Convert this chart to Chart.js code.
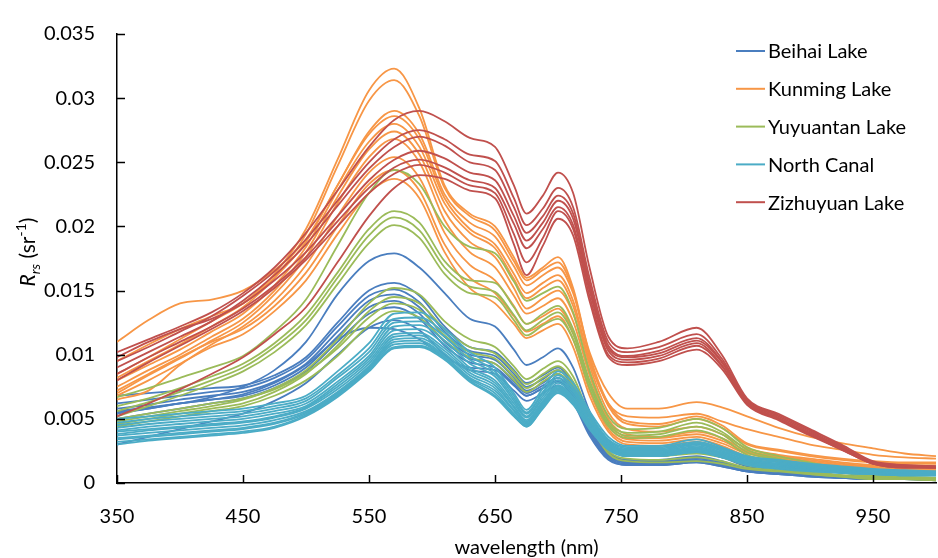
<!DOCTYPE html>
<html>
<head>
<meta charset="utf-8">
<script src="https://cdn.jsdelivr.net/npm/chart.js@4.4.1/dist/chart.umd.min.js"></script>
<style>
  html, body { margin: 0; padding: 0; background: #fff; }
  #wrap { width: 938px; height: 558px; }
</style>
</head>
<body>
<div id="wrap"><canvas id="rrsChart" width="938" height="558"></canvas></div>
<script>
const wavelengths = [350, 375, 400, 425, 450, 475, 500, 525, 550, 570, 590, 610, 630, 650, 665, 675, 688, 700, 712, 725, 740, 755, 780, 810, 830, 850, 875, 900, 925, 950, 975, 1000];

const xTickValues = [350, 450, 550, 650, 750, 850, 950];
const yTickValues = [0, 0.005, 0.01, 0.015, 0.02, 0.025, 0.03, 0.035];

const lakeNames = ['Beihai Lake', 'Kunming Lake', 'Yuyuantan Lake', 'North Canal', 'Zizhuyuan Lake'];
const lakeColors = ['#4a7ebf', '#f79646', '#9bbb59', '#4bacc6', '#c0504d'];

// Rrs (sr^-1), one row per sampled spectrum
const beihaiLake = [
  [0.0055,0.0058,0.0062,0.0067,0.0075,0.0088,0.0110,0.0147,0.0173,0.0179,0.0168,0.0148,0.0128,0.0122,0.0104,0.0092,0.0098,0.0105,0.0090,0.0056,0.0030,0.0022,0.0021,0.0024,0.0020,0.0013,0.0010,0.0008,0.0006,0.0005,0.0004,0.0004],
  [0.0068,0.0070,0.0072,0.0074,0.0076,0.0084,0.0098,0.0125,0.0150,0.0156,0.0146,0.0122,0.0106,0.0102,0.0088,0.0078,0.0084,0.0090,0.0076,0.0046,0.0024,0.0018,0.0018,0.0021,0.0017,0.0011,0.0009,0.0007,0.0005,0.0004,0.0004,0.0003],
  [0.0062,0.0065,0.0068,0.0071,0.0074,0.0082,0.0096,0.0122,0.0146,0.0151,0.0141,0.0118,0.0103,0.0099,0.0085,0.0075,0.0081,0.0088,0.0074,0.0045,0.0023,0.0017,0.0017,0.0020,0.0016,0.0011,0.0008,0.0006,0.0005,0.0004,0.0003,0.0003],
  [0.0058,0.0061,0.0065,0.0068,0.0071,0.0079,0.0093,0.0118,0.0142,0.0147,0.0137,0.0114,0.0100,0.0096,0.0082,0.0072,0.0078,0.0085,0.0071,0.0043,0.0022,0.0017,0.0016,0.0019,0.0016,0.0010,0.0008,0.0006,0.0005,0.0004,0.0003,0.0003],
  [0.0054,0.0058,0.0062,0.0065,0.0068,0.0076,0.0090,0.0114,0.0137,0.0142,0.0132,0.0110,0.0097,0.0093,0.0079,0.0070,0.0076,0.0082,0.0069,0.0041,0.0021,0.0016,0.0016,0.0018,0.0015,0.0010,0.0008,0.0006,0.0004,0.0003,0.0003,0.0003],
  [0.0050,0.0054,0.0058,0.0062,0.0066,0.0074,0.0087,0.0110,0.0132,0.0137,0.0128,0.0107,0.0094,0.0090,0.0077,0.0068,0.0074,0.0080,0.0067,0.0040,0.0020,0.0015,0.0015,0.0017,0.0014,0.0009,0.0007,0.0006,0.0004,0.0003,0.0003,0.0003],
  [0.0030,0.0036,0.0042,0.0048,0.0054,0.0064,0.0078,0.0100,0.0121,0.0127,0.0119,0.0100,0.0088,0.0085,0.0072,0.0064,0.0070,0.0076,0.0063,0.0037,0.0018,0.0014,0.0014,0.0016,0.0013,0.0009,0.0007,0.0005,0.0004,0.0003,0.0003,0.0002],
  [0.0056,0.0059,0.0062,0.0065,0.0069,0.0078,0.0092,0.0112,0.0121,0.0120,0.0112,0.0098,0.0090,0.0088,0.0076,0.0068,0.0074,0.0079,0.0066,0.0039,0.0019,0.0014,0.0014,0.0016,0.0013,0.0009,0.0007,0.0005,0.0004,0.0003,0.0003,0.0002]
];

const kunmingLake = [
  [0.0085,0.0098,0.0112,0.0126,0.0140,0.0163,0.0198,0.0252,0.0306,0.0323,0.0292,0.0232,0.0210,0.0200,0.0176,0.0160,0.0168,0.0176,0.0152,0.0100,0.0062,0.0048,0.0046,0.0052,0.0045,0.0031,0.0026,0.0022,0.0019,0.0017,0.0016,0.0016],
  [0.0082,0.0095,0.0108,0.0122,0.0137,0.0160,0.0194,0.0247,0.0298,0.0314,0.0286,0.0230,0.0208,0.0197,0.0173,0.0158,0.0166,0.0172,0.0150,0.0098,0.0060,0.0046,0.0044,0.0050,0.0043,0.0030,0.0025,0.0021,0.0018,0.0016,0.0015,0.0015],
  [0.0110,0.0127,0.0140,0.0143,0.0150,0.0166,0.0190,0.0232,0.0274,0.0290,0.0272,0.0225,0.0203,0.0192,0.0169,0.0154,0.0162,0.0168,0.0148,0.0102,0.0070,0.0058,0.0058,0.0063,0.0059,0.0052,0.0043,0.0036,0.0031,0.0027,0.0023,0.0021],
  [0.0095,0.0108,0.0120,0.0130,0.0140,0.0160,0.0188,0.0232,0.0272,0.0286,0.0268,0.0222,0.0198,0.0186,0.0163,0.0148,0.0156,0.0162,0.0142,0.0095,0.0062,0.0052,0.0051,0.0054,0.0048,0.0042,0.0036,0.0030,0.0026,0.0022,0.0020,0.0019],
  [0.0080,0.0092,0.0104,0.0118,0.0132,0.0154,0.0184,0.0228,0.0266,0.0280,0.0262,0.0218,0.0195,0.0183,0.0159,0.0144,0.0152,0.0158,0.0138,0.0092,0.0055,0.0042,0.0040,0.0044,0.0038,0.0027,0.0022,0.0019,0.0016,0.0014,0.0013,0.0013],
  [0.0075,0.0088,0.0100,0.0114,0.0128,0.0150,0.0180,0.0223,0.0260,0.0274,0.0256,0.0212,0.0188,0.0176,0.0152,0.0136,0.0144,0.0150,0.0132,0.0088,0.0050,0.0038,0.0036,0.0040,0.0035,0.0025,0.0021,0.0018,0.0015,0.0013,0.0012,0.0012],
  [0.0070,0.0084,0.0097,0.0111,0.0125,0.0147,0.0176,0.0218,0.0254,0.0268,0.0250,0.0205,0.0180,0.0168,0.0146,0.0132,0.0138,0.0144,0.0126,0.0084,0.0048,0.0036,0.0035,0.0038,0.0033,0.0024,0.0020,0.0017,0.0014,0.0013,0.0012,0.0012],
  [0.0065,0.0072,0.0092,0.0108,0.0122,0.0142,0.0170,0.0208,0.0242,0.0254,0.0238,0.0195,0.0170,0.0158,0.0138,0.0124,0.0130,0.0136,0.0118,0.0078,0.0045,0.0034,0.0033,0.0036,0.0031,0.0023,0.0019,0.0016,0.0013,0.0012,0.0011,0.0011],
  [0.0072,0.0085,0.0098,0.0110,0.0120,0.0138,0.0164,0.0200,0.0233,0.0244,0.0228,0.0186,0.0160,0.0148,0.0130,0.0118,0.0124,0.0130,0.0112,0.0072,0.0042,0.0032,0.0031,0.0034,0.0029,0.0021,0.0018,0.0015,0.0013,0.0011,0.0010,0.0010],
  [0.0068,0.0080,0.0093,0.0106,0.0116,0.0134,0.0158,0.0194,0.0226,0.0237,0.0222,0.0180,0.0152,0.0140,0.0124,0.0113,0.0119,0.0124,0.0106,0.0068,0.0040,0.0030,0.0029,0.0032,0.0027,0.0020,0.0017,0.0014,0.0012,0.0010,0.0009,0.0009]
];

const yuyuantanLake = [
  [0.0067,0.0074,0.0082,0.0090,0.0099,0.0118,0.0143,0.0185,0.0226,0.0244,0.0233,0.0200,0.0184,0.0179,0.0157,0.0142,0.0148,0.0153,0.0133,0.0087,0.0052,0.0042,0.0043,0.0050,0.0043,0.0028,0.0021,0.0016,0.0011,0.0007,0.0005,0.0004],
  [0.0060,0.0066,0.0074,0.0083,0.0093,0.0109,0.0131,0.0164,0.0198,0.0212,0.0203,0.0173,0.0158,0.0156,0.0137,0.0124,0.0132,0.0138,0.0120,0.0080,0.0048,0.0039,0.0040,0.0047,0.0040,0.0026,0.0019,0.0014,0.0010,0.0006,0.0005,0.0004],
  [0.0056,0.0063,0.0071,0.0080,0.0090,0.0106,0.0127,0.0160,0.0193,0.0207,0.0197,0.0168,0.0153,0.0149,0.0131,0.0119,0.0127,0.0133,0.0116,0.0077,0.0046,0.0037,0.0038,0.0044,0.0038,0.0024,0.0018,0.0013,0.0009,0.0006,0.0004,0.0003],
  [0.0052,0.0060,0.0068,0.0077,0.0087,0.0102,0.0123,0.0155,0.0187,0.0201,0.0191,0.0163,0.0148,0.0145,0.0127,0.0115,0.0123,0.0128,0.0112,0.0074,0.0044,0.0035,0.0036,0.0041,0.0035,0.0022,0.0017,0.0012,0.0008,0.0005,0.0004,0.0003],
  [0.0048,0.0052,0.0056,0.0060,0.0065,0.0074,0.0088,0.0112,0.0140,0.0152,0.0147,0.0126,0.0112,0.0106,0.0091,0.0081,0.0089,0.0095,0.0083,0.0053,0.0030,0.0023,0.0023,0.0026,0.0022,0.0015,0.0012,0.0009,0.0006,0.0004,0.0003,0.0003],
  [0.0046,0.0050,0.0054,0.0058,0.0062,0.0071,0.0085,0.0107,0.0134,0.0145,0.0140,0.0120,0.0106,0.0101,0.0087,0.0077,0.0085,0.0091,0.0079,0.0051,0.0028,0.0021,0.0021,0.0023,0.0020,0.0014,0.0011,0.0008,0.0006,0.0004,0.0003,0.0003],
  [0.0050,0.0054,0.0058,0.0062,0.0066,0.0073,0.0086,0.0105,0.0129,0.0140,0.0135,0.0115,0.0102,0.0097,0.0083,0.0074,0.0082,0.0088,0.0076,0.0048,0.0025,0.0019,0.0018,0.0020,0.0017,0.0012,0.0010,0.0007,0.0005,0.0004,0.0003,0.0002],
  [0.0044,0.0048,0.0052,0.0056,0.0060,0.0068,0.0080,0.0099,0.0123,0.0134,0.0129,0.0111,0.0098,0.0093,0.0080,0.0071,0.0079,0.0085,0.0073,0.0046,0.0023,0.0017,0.0016,0.0017,0.0015,0.0011,0.0009,0.0007,0.0005,0.0003,0.0003,0.0002]
];

const northCanal = [
  [0.0050,0.0052,0.0054,0.0056,0.0058,0.0062,0.0068,0.0087,0.0109,0.0132,0.0133,0.0120,0.0102,0.0090,0.0070,0.0057,0.0074,0.0087,0.0078,0.0056,0.0036,0.0029,0.0029,0.0034,0.0028,0.0021,0.0018,0.0015,0.0013,0.0011,0.0010,0.0009],
  [0.0047,0.0050,0.0052,0.0054,0.0056,0.0060,0.0066,0.0084,0.0105,0.0128,0.0129,0.0117,0.0099,0.0087,0.0068,0.0055,0.0071,0.0084,0.0075,0.0054,0.0034,0.0028,0.0028,0.0032,0.0027,0.0020,0.0017,0.0014,0.0012,0.0010,0.0009,0.0009],
  [0.0045,0.0048,0.0050,0.0052,0.0054,0.0058,0.0064,0.0082,0.0102,0.0125,0.0126,0.0114,0.0096,0.0085,0.0066,0.0054,0.0070,0.0082,0.0073,0.0052,0.0033,0.0027,0.0027,0.0031,0.0026,0.0019,0.0016,0.0013,0.0011,0.0010,0.0009,0.0008],
  [0.0043,0.0046,0.0048,0.0050,0.0052,0.0056,0.0062,0.0079,0.0099,0.0122,0.0123,0.0111,0.0093,0.0083,0.0064,0.0052,0.0068,0.0080,0.0071,0.0051,0.0032,0.0026,0.0026,0.0030,0.0025,0.0018,0.0015,0.0013,0.0011,0.0009,0.0008,0.0008],
  [0.0041,0.0044,0.0046,0.0048,0.0050,0.0054,0.0060,0.0077,0.0097,0.0119,0.0120,0.0108,0.0090,0.0080,0.0062,0.0051,0.0066,0.0078,0.0069,0.0049,0.0031,0.0025,0.0025,0.0029,0.0024,0.0018,0.0015,0.0012,0.0010,0.0009,0.0008,0.0008],
  [0.0040,0.0042,0.0044,0.0046,0.0048,0.0052,0.0059,0.0075,0.0095,0.0116,0.0117,0.0105,0.0088,0.0078,0.0060,0.0049,0.0064,0.0076,0.0067,0.0048,0.0030,0.0024,0.0024,0.0028,0.0023,0.0017,0.0014,0.0012,0.0010,0.0008,0.0007,0.0007],
  [0.0038,0.0041,0.0043,0.0045,0.0047,0.0051,0.0058,0.0073,0.0093,0.0114,0.0115,0.0103,0.0086,0.0076,0.0059,0.0048,0.0063,0.0075,0.0066,0.0047,0.0029,0.0024,0.0024,0.0027,0.0023,0.0017,0.0014,0.0011,0.0009,0.0008,0.0007,0.0007],
  [0.0037,0.0039,0.0041,0.0043,0.0045,0.0049,0.0056,0.0071,0.0091,0.0112,0.0113,0.0101,0.0084,0.0074,0.0057,0.0047,0.0062,0.0074,0.0065,0.0046,0.0029,0.0023,0.0023,0.0027,0.0022,0.0016,0.0013,0.0011,0.0009,0.0008,0.0007,0.0007],
  [0.0035,0.0037,0.0039,0.0041,0.0043,0.0047,0.0055,0.0070,0.0090,0.0110,0.0111,0.0099,0.0082,0.0072,0.0056,0.0046,0.0061,0.0073,0.0064,0.0045,0.0028,0.0023,0.0023,0.0026,0.0022,0.0016,0.0013,0.0011,0.0009,0.0007,0.0007,0.0006],
  [0.0034,0.0036,0.0038,0.0040,0.0042,0.0046,0.0054,0.0069,0.0089,0.0108,0.0109,0.0098,0.0081,0.0070,0.0054,0.0045,0.0060,0.0072,0.0063,0.0044,0.0027,0.0022,0.0022,0.0025,0.0021,0.0015,0.0012,0.0010,0.0008,0.0007,0.0006,0.0006],
  [0.0032,0.0034,0.0036,0.0038,0.0040,0.0044,0.0053,0.0068,0.0088,0.0106,0.0107,0.0097,0.0080,0.0068,0.0053,0.0044,0.0059,0.0071,0.0062,0.0043,0.0026,0.0021,0.0021,0.0024,0.0020,0.0015,0.0012,0.0010,0.0008,0.0007,0.0006,0.0006],
  [0.0030,0.0033,0.0035,0.0037,0.0039,0.0043,0.0052,0.0067,0.0087,0.0105,0.0106,0.0096,0.0079,0.0067,0.0052,0.0044,0.0058,0.0070,0.0061,0.0042,0.0026,0.0021,0.0021,0.0024,0.0020,0.0014,0.0011,0.0009,0.0008,0.0007,0.0006,0.0006]
];

const zizhuyuanLake = [
  [0.0102,0.0112,0.0122,0.0133,0.0148,0.0168,0.0195,0.0228,0.0262,0.0283,0.0290,0.0282,0.0269,0.0262,0.0232,0.0210,0.0224,0.0242,0.0226,0.0168,0.0114,0.0105,0.0110,0.0121,0.0100,0.0066,0.0054,0.0042,0.0030,0.0017,0.0014,0.0013],
  [0.0095,0.0106,0.0118,0.0130,0.0146,0.0165,0.0190,0.0220,0.0250,0.0268,0.0275,0.0268,0.0256,0.0251,0.0222,0.0201,0.0214,0.0230,0.0215,0.0160,0.0110,0.0102,0.0106,0.0116,0.0097,0.0065,0.0053,0.0041,0.0029,0.0016,0.0014,0.0013],
  [0.0090,0.0102,0.0114,0.0126,0.0142,0.0162,0.0186,0.0216,0.0245,0.0262,0.0270,0.0263,0.0250,0.0244,0.0215,0.0195,0.0208,0.0224,0.0210,0.0156,0.0107,0.0099,0.0103,0.0113,0.0095,0.0064,0.0052,0.0040,0.0028,0.0016,0.0013,0.0013],
  [0.0098,0.0110,0.0120,0.0128,0.0140,0.0158,0.0180,0.0208,0.0236,0.0252,0.0259,0.0253,0.0242,0.0236,0.0208,0.0189,0.0203,0.0220,0.0206,0.0153,0.0105,0.0098,0.0101,0.0111,0.0094,0.0063,0.0051,0.0039,0.0028,0.0016,0.0013,0.0012],
  [0.0085,0.0098,0.0110,0.0122,0.0136,0.0154,0.0176,0.0204,0.0230,0.0246,0.0252,0.0246,0.0236,0.0230,0.0202,0.0183,0.0198,0.0215,0.0201,0.0150,0.0103,0.0096,0.0099,0.0109,0.0092,0.0062,0.0050,0.0038,0.0027,0.0015,0.0013,0.0012],
  [0.0080,0.0094,0.0107,0.0120,0.0134,0.0152,0.0174,0.0200,0.0226,0.0241,0.0248,0.0242,0.0232,0.0226,0.0194,0.0172,0.0191,0.0212,0.0198,0.0146,0.0100,0.0094,0.0097,0.0107,0.0091,0.0062,0.0050,0.0038,0.0026,0.0015,0.0012,0.0012],
  [0.0052,0.0062,0.0073,0.0085,0.0098,0.0116,0.0137,0.0172,0.0208,0.0230,0.0240,0.0237,0.0228,0.0222,0.0186,0.0162,0.0185,0.0206,0.0193,0.0142,0.0098,0.0092,0.0095,0.0104,0.0089,0.0061,0.0049,0.0037,0.0026,0.0015,0.0012,0.0012]
];

const spectraByLake = [beihaiLake, kunmingLake, yuyuantanLake, northCanal, zizhuyuanLake];

const FONT = 'Lato, "Noto Sans", sans-serif';

// one dataset per spectrum; later lakes are drawn on top
const datasets = [];
spectraByLake.forEach((rows, li) => {
  rows.forEach(row => {
    datasets.push({
      label: lakeNames[li],
      data: row.map((v, i) => ({ x: wavelengths[i], y: v })),
      borderColor: lakeColors[li],
      backgroundColor: lakeColors[li],
      borderWidth: 1.8,
      pointRadius: 0,
      fill: false,
      cubicInterpolationMode: 'monotone',
      order: lakeNames.length - 1 - li,
    });
  });
});

// inward tick marks, rotated y title with sub/superscript, and the legend
const decorPlugin = {
  id: 'decor',
  afterDraw(chart) {
    const ctx = chart.ctx;
    const xs = chart.scales.x;
    const ys = chart.scales.y;
    const area = chart.chartArea;
    ctx.save();
    ctx.strokeStyle = '#000';
    ctx.lineWidth = 1.5;
    xTickValues.forEach(v => {
      const px = Math.round(xs.getPixelForValue(v)) + 0.5;
      ctx.beginPath();
      ctx.moveTo(px, area.bottom);
      ctx.lineTo(px, area.bottom - 8);
      ctx.stroke();
    });
    yTickValues.forEach(v => {
      const py = Math.round(ys.getPixelForValue(v)) + 0.5;
      ctx.beginPath();
      ctx.moveTo(area.left, py);
      ctx.lineTo(area.left + 8, py);
      ctx.stroke();
    });

    // y axis title: R_rs (sr^-1)
    const parts = [
      { t: 'R', font: 'italic 21px ' + FONT, dy: 0 },
      { t: 'rs', font: 'italic 14px ' + FONT, dy: 5 },
      { t: ' (sr', font: '21px ' + FONT, dy: 0 },
      { t: '-1', font: '14px ' + FONT, dy: -9 },
      { t: ')', font: '21px ' + FONT, dy: 0 },
    ];
    let total = 0;
    parts.forEach(p => { ctx.font = p.font; p.w = ctx.measureText(p.t).width; total += p.w; });
    ctx.translate(35, 252);
    ctx.rotate(-Math.PI / 2);
    ctx.fillStyle = '#000';
    ctx.textBaseline = 'alphabetic';
    ctx.textAlign = 'left';
    let cx = -total / 2;
    parts.forEach(p => {
      ctx.font = p.font;
      ctx.fillText(p.t, cx, p.dy);
      cx += p.w;
    });
    ctx.restore();

    // legend
    ctx.save();
    ctx.font = '20px ' + FONT;
    ctx.textBaseline = 'middle';
    ctx.textAlign = 'left';
    lakeNames.forEach((name, i) => {
      const y = 51 + i * 37.8;
      ctx.strokeStyle = lakeColors[i];
      ctx.lineWidth = 2;
      ctx.beginPath();
      ctx.moveTo(736, y);
      ctx.lineTo(765, y);
      ctx.stroke();
      ctx.fillStyle = '#000';
      ctx.fillText(name, 768, y + 1);
    });
    ctx.restore();
  }
};

new Chart(document.getElementById('rrsChart'), {
  type: 'line',
  data: { datasets },
  plugins: [decorPlugin],
  options: {
    responsive: false,
    animation: false,
    layout: { padding: { top: 23, right: 2, left: 0, bottom: 0 } },
    plugins: {
      legend: { display: false },
      tooltip: { enabled: false },
    },
    scales: {
      x: {
        type: 'linear',
        min: 350,
        max: 1000,
        afterBuildTicks: s => { s.ticks = xTickValues.map(v => ({ value: v })); },
        afterFit: s => { s.height = 75; },
        grid: { display: false, drawTicks: false },
        border: { display: true, color: '#000', width: 1.5 },
        ticks: { padding: 22, color: '#000', maxRotation: 0, autoSkip: false, font: { family: FONT, size: 20 } },
        title: { display: true, text: 'wavelength (nm)', color: '#000', padding: { top: 0, bottom: -2 }, font: { family: FONT, size: 20 } },
      },
      y: {
        min: 0,
        max: 0.035,
        afterBuildTicks: s => { s.ticks = yTickValues.map(v => ({ value: v })); },
        afterFit: s => { s.width = 117; },
        grid: { display: false, drawTicks: false },
        border: { display: true, color: '#000', width: 1.5 },
        ticks: {
          padding: 22,
          color: '#000',
          font: { family: FONT, size: 20 },
          callback: v => String(Number(v.toFixed(3))),
        },
      },
    },
  },
});
</script>
</body>
</html>
